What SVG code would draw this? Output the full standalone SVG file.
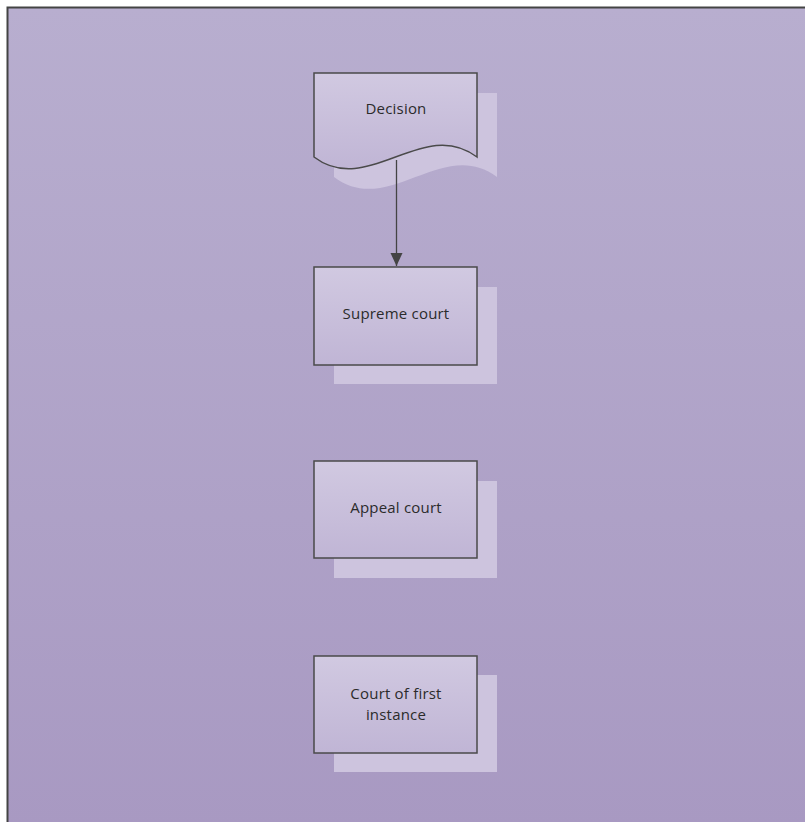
<svg xmlns="http://www.w3.org/2000/svg" width="805" height="822" viewBox="0 0 805 822">
  <defs>
    <linearGradient id="bg" x1="0" y1="0" x2="0" y2="1">
      <stop offset="0" stop-color="#b8aecf"/>
      <stop offset="1" stop-color="#a899c2"/>
    </linearGradient>
    <linearGradient id="nodeFill" x1="0" y1="0" x2="0" y2="1">
      <stop offset="0" stop-color="#d1c9e1"/>
      <stop offset="1" stop-color="#c0b5d5"/>
    </linearGradient>
    <marker id="arrow" markerWidth="14" markerHeight="14" refX="13" refY="6" orient="auto" markerUnits="userSpaceOnUse">
      <path d="M0,0 L13,6 L0,12 Z" fill="#444"/>
    </marker>
    <style>
      .shadow { fill: #cdc4de; }
      .node { fill: url(#nodeFill); stroke: #4a4a4a; stroke-width: 1.5; }
      .label { font-family: "Open Sans", "Liberation Sans", sans-serif; font-size: 15px; fill: #2b2b2b; text-anchor: middle; letter-spacing: 0.2px; }
      .edge { fill: none; stroke: #444; stroke-width: 1.3; }
    </style>
  </defs>

  <!-- canvas -->
  <rect x="0" y="0" width="805" height="822" fill="#ffffff"/>
  <rect x="7" y="7" width="800" height="820" fill="url(#bg)"/>
  <path d="M7.5,822 V7.5 H805" fill="none" stroke="#444" stroke-width="2"/>

  <g id="decision">
    <path class="shadow" d="M334,93 H497 V177 C443,136 388,218 334,177 Z"/>
    <path class="node" d="M314,73 H477 V157 C423,116 368,198 314,157 Z"/>
    <text class="label" x="396" y="114">Decision</text>
  </g>

  <g id="supreme-court">
    <rect class="shadow" x="334" y="287" width="163" height="97"/>
    <rect class="node" x="314" y="267" width="163" height="98"/>
    <text class="label" x="396" y="319">Supreme court</text>
  </g>

  <g id="appeal-court">
    <rect class="shadow" x="334" y="481" width="163" height="97"/>
    <rect class="node" x="314" y="461" width="163" height="97"/>
    <text class="label" x="396" y="513">Appeal court</text>
  </g>

  <g id="court-of-first-instance">
    <rect class="shadow" x="334" y="675" width="163" height="97"/>
    <rect class="node" x="314" y="656" width="163" height="97"/>
    <text class="label" x="396" y="699">Court of first</text>
    <text class="label" x="396" y="720">instance</text>
  </g>

  <g id="connectors">
    <line class="edge" x1="396.5" y1="160" x2="396.5" y2="266" marker-end="url(#arrow)"/>
  </g>
</svg>
